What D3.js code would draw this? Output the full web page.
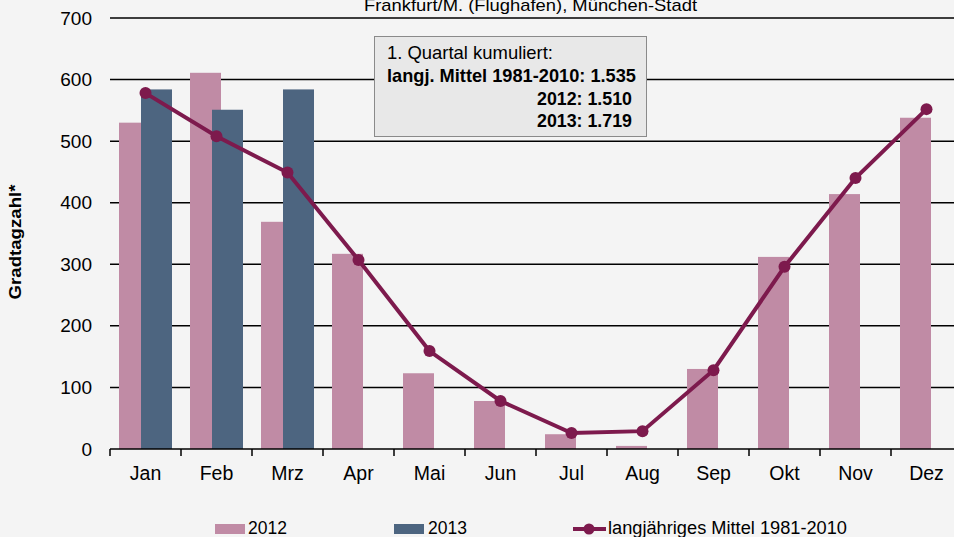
<!DOCTYPE html>
<html>
<head>
<meta charset="utf-8">
<script src="https://cdn.jsdelivr.net/npm/d3@7"></script>
<style>
  body { margin: 0; background: #f4f4f4; overflow: hidden; }
  svg { display: block; }
  text { font-family: "Liberation Sans", Arial, sans-serif; fill: #000; }
</style>
</head>
<body>
<svg id="chart" width="954" height="537"></svg>
<script>
// chart data
const months = ["Jan", "Feb", "Mrz", "Apr", "Mai", "Jun", "Jul", "Aug", "Sep", "Okt", "Nov", "Dez"];
const values2012 = [530, 611, 369, 317, 123, 78, 24, 5, 130, 312, 414, 538];
const values2013 = [584, 551, 584];
const meanValues = [578, 508, 449, 307, 159, 78, 26, 29, 128, 296, 440, 552];
const yTicks = [0, 100, 200, 300, 400, 500, 600, 700];
const boxLines = ["1. Quartal kumuliert:", "langj. Mittel 1981-2010: 1.535", "2012: 1.510", "2013: 1.719"];

const c2012 = "#c08ba5", c2013 = "#4d6580", cLine = "#7d1a4d";

var svg = d3.select("#chart");

var x = d3.scaleBand().domain(months).range([110, 962]);
var y = d3.scaleLinear().domain([0, 700]).range([449, 18]);

// small helper: text squeezed to a given width
function label(sel, px, py, size, width, txt) {
  return sel.append("text")
    .attr("x", px).attr("y", py)
    .attr("font-size", size)
    .attr("textLength", width)
    .attr("lengthAdjust", "spacingAndGlyphs")
    .text(txt);
}

// gridlines
svg.append("g")
  .selectAll("line")
  .data(yTicks.slice(1))
  .enter().append("line")
  .attr("x1", 110).attr("x2", 954)
  .attr("y1", d => y(d)).attr("y2", d => y(d))
  .attr("stroke", "#000").attr("stroke-width", 1.5);

// y axis labels
var yAxis = d3.axisLeft(y).tickValues(yTicks).tickSize(0).tickPadding(18);
var gy = svg.append("g").attr("transform", "translate(110,0)").call(yAxis);
gy.select(".domain").remove();
gy.selectAll("text").attr("font-size", 19).attr("font-family", "Liberation Sans, Arial, sans-serif");

// title (cut off at top)
label(svg, 364, 11, 17, 333, "Frankfurt/M. (Flughafen), München-Stadt");

// y axis title
svg.append("text")
  .attr("transform", "translate(21,242) rotate(-90)")
  .attr("text-anchor", "middle")
  .attr("font-size", 17).attr("font-weight", "bold")
  .attr("textLength", 115).attr("lengthAdjust", "spacingAndGlyphs")
  .text("Gradtagzahl*");

// bars 2012
svg.append("g")
  .selectAll("rect")
  .data(values2012)
  .enter().append("rect")
  .attr("x", (d, i) => x(months[i]) + 9)
  .attr("width", 31)
  .attr("y", d => y(d))
  .attr("height", d => y(0) - y(d))
  .attr("fill", c2012);

// bars 2013
svg.append("g")
  .selectAll("rect")
  .data(values2013)
  .enter().append("rect")
  .attr("x", (d, i) => x(months[i]) + 31)
  .attr("width", 31)
  .attr("y", d => y(d))
  .attr("height", d => y(0) - y(d))
  .attr("fill", c2013);

// x axis
var xAxis = d3.axisBottom(x).tickSize(0).tickPadding(17);
var gx = svg.append("g").attr("transform", "translate(0," + y(0) + ")").call(xAxis);
gx.select(".domain").remove();
gx.selectAll("text").attr("font-size", 19.5).attr("font-family", "Liberation Sans, Arial, sans-serif");
svg.append("line")
  .attr("x1", 110).attr("x2", 954)
  .attr("y1", y(0)).attr("y2", y(0))
  .attr("stroke", "#000").attr("stroke-width", 1.5);
svg.append("g")
  .selectAll("line")
  .data(months.concat(["end"]))
  .enter().append("line")
  .attr("x1", (d, i) => 110 + i * x.step()).attr("x2", (d, i) => 110 + i * x.step())
  .attr("y1", y(0)).attr("y2", y(0) + 7)
  .attr("stroke", "#000").attr("stroke-width", 1.5);

// mean line
var line = d3.line()
  .x((d, i) => x(months[i]) + x.bandwidth() / 2)
  .y(d => y(d));
svg.append("path")
  .datum(meanValues)
  .attr("d", line)
  .attr("fill", "none")
  .attr("stroke", cLine)
  .attr("stroke-width", 4);
svg.append("g")
  .selectAll("circle")
  .data(meanValues)
  .enter().append("circle")
  .attr("cx", (d, i) => x(months[i]) + x.bandwidth() / 2)
  .attr("cy", d => y(d))
  .attr("r", 6)
  .attr("fill", cLine);

// annotation box
svg.append("rect")
  .attr("x", 374.5).attr("y", 36.5)
  .attr("width", 272).attr("height", 100)
  .attr("fill", "#e8e8e8").attr("stroke", "#8a8a8a").attr("stroke-width", 1);
label(svg, 387, 59, 19, 166, boxLines[0]);
label(svg, 387, 82, 19, 249, boxLines[1]).attr("font-weight", "bold");
label(svg, 537, 105, 19, 95, boxLines[2]).attr("font-weight", "bold");
label(svg, 537, 127, 19, 95, boxLines[3]).attr("font-weight", "bold");

// legend
var lg = svg.append("g");
lg.append("rect").attr("x", 215).attr("y", 524).attr("width", 30).attr("height", 10).attr("fill", c2012);
label(lg, 248, 534, 18, 39, "2012");
lg.append("rect").attr("x", 394).attr("y", 524).attr("width", 30).attr("height", 10).attr("fill", c2013);
label(lg, 428, 534, 18, 39, "2013");
lg.append("line").attr("x1", 573).attr("x2", 606).attr("y1", 529).attr("y2", 529).attr("stroke", cLine).attr("stroke-width", 4);
lg.append("circle").attr("cx", 589).attr("cy", 529).attr("r", 5.5).attr("fill", cLine);
label(lg, 608, 534, 18, 239, "langjähriges Mittel 1981-2010");
</script>
</body>
</html>
